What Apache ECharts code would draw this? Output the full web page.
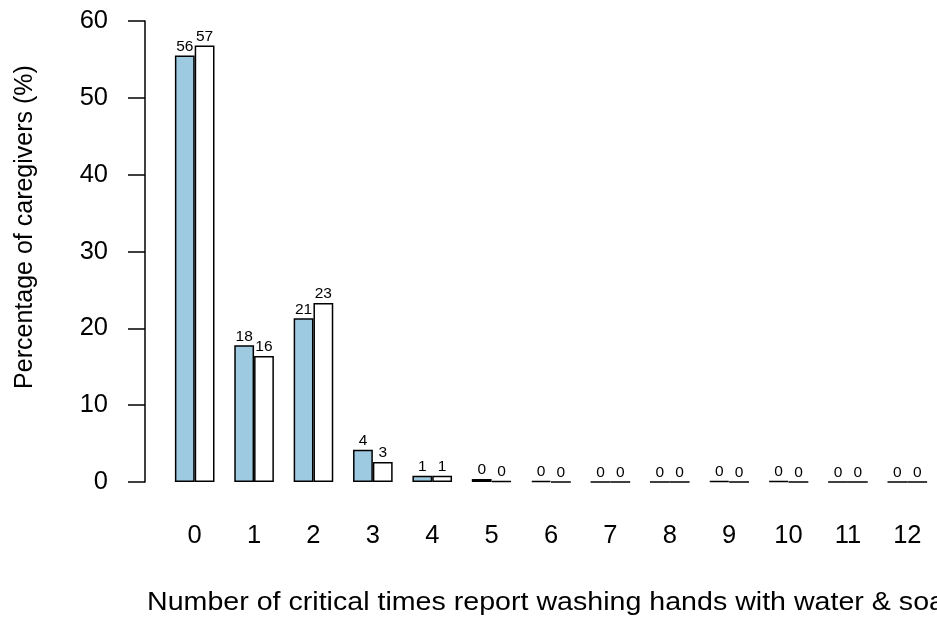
<!DOCTYPE html>
<html><head><meta charset="utf-8">
<script src="https://cdn.jsdelivr.net/npm/echarts@6/dist/echarts.min.js"></script>
<style>html,body{margin:0;padding:0;background:#fff}#c{width:937px;height:620px}</style>
</head><body><div id="c"></div>
<script>
var categories = ['0','1','2','3','4','5','6','7','8','9','10','11','12'];
var seriesA = [55.5, 17.8, 21.3, 4.2, 0.8, 0.4, 0.15, 0, 0, 0.1, 0.1, 0, 0];
var seriesB = [56.8, 16.4, 23.3, 2.6, 0.8, 0.1, 0, 0, 0, 0, 0, 0, 0];
var yTicks = [0, 10, 20, 30, 40, 50, 60];
var yTitle = 'Percentage of caregivers (%)';
var xTitle = 'Number of critical times report washing hands with water & soap';

var FONT = '"Liberation Sans", Arial, Helvetica, sans-serif';
var chart = echarts.init(document.getElementById('c'), null, {renderer: 'canvas'});
function lbl() {
  return {show: true, position: 'top', distance: 1, color: '#000', fontFamily: FONT, fontSize: 15.5,
    formatter: function (p) { return String(Math.round(p.value)); }};
}
chart.setOption({
  animation: false,
  backgroundColor: '#fff',
  grid: {left: 165, top: 21, width: 780, height: 461, containLabel: false},
  xAxis: {
    type: 'category', data: categories,
    axisLine: {show: false}, axisTick: {show: false},
    axisLabel: {color: '#000', fontFamily: FONT, fontSize: 25.5, margin: 41, interval: 0}
  },
  yAxis: {
    type: 'value', min: yTicks[0], max: yTicks[yTicks.length - 1], interval: 10, offset: 20,
    splitLine: {show: false},
    axisLine: {show: true, lineStyle: {color: '#000', width: 1.5}},
    axisTick: {show: true, inside: false, length: 17, lineStyle: {color: '#000', width: 1.5}},
    axisLabel: {color: '#000', fontFamily: FONT, fontSize: 25.5, margin: 37}
  },
  graphic: [
    {type: 'text', x: 147, y: 590, scaleX: 1.1, style: {text: xTitle, font: '26px ' + FONT, fill: '#000'}},
    {type: 'text', x: 25, y: 227, rotation: Math.PI / 2, style: {text: yTitle, font: '25px ' + FONT, fill: '#000', align: 'center', verticalAlign: 'middle'}}
  ],
  series: [
    {type: 'bar', data: seriesA, barGap: '0%', barCategoryGap: '33.3%',
      itemStyle: {color: '#9ecae1', borderColor: '#000', borderWidth: 1.5}, label: lbl()},
    {type: 'bar', data: seriesB, barGap: '0%', barCategoryGap: '33.3%',
      itemStyle: {color: '#ffffff', borderColor: '#000', borderWidth: 1.5}, label: lbl()}
  ]
});
</script></body></html>
